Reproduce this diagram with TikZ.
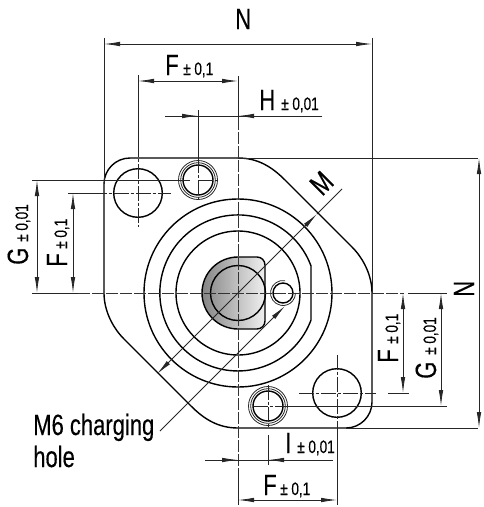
\documentclass[tikz,border=0pt]{standalone}
\usepackage{fontspec}
\setmainfont[FakeStretch=0.75,FakeBold=0.3]{Liberation Sans}
\usetikzlibrary{arrows.meta}

\tikzset{
    outline/.style={line width=1.05pt, black},
    thinline/.style={line width=0.6pt, black!85},
    axisline/.style={line width=0.65pt, black!80, dash pattern=on 9pt off 1.5pt},
    centerline/.style={line width=0.6pt, black!85, dash pattern=on 11pt off 1.5pt on 2.5pt off 1.5pt},
    dimline/.style={thinline, {Latex[length=12pt,width=3.4pt]}-{Latex[length=12pt,width=3.4pt]}},
    tipline/.style={thinline, -{Latex[length=12pt,width=3.4pt]}},
    bigtext/.style={inner sep=0pt, anchor=base west, font=\fontsize{22}{24}\selectfont},
    toltext/.style={inner sep=0pt, anchor=base west, font=\fontsize{13.5}{15}\selectfont},
}

\begin{document}
\begin{tikzpicture}[x=0.75pt, y=-0.75pt]
            \useasboundingbox (0,0) rectangle (483,507);

            % bore
            \draw [outline, left color=black!48, right color=black!6] (238,257) -- (257,257)
                arc[start angle=270, end angle=360, radius=8] -- (265,321)
                arc[start angle=0, end angle=90, radius=8] -- (238,329)
                arc[start angle=90, end angle=270, radius=36] -- cycle;
            \draw [outline] (238,293) circle (27.5);

            % body
            \draw [outline] (238,158) .. controls (258,158) and (272,167) .. (285,180) -- (352,247)
                .. controls (363,258) and (372,275) .. (372,293) -- (372,402)
                arc[start angle=0, end angle=90, radius=26] -- (238,428)
                .. controls (218,428) and (204,419) .. (191,406) -- (124,339)
                .. controls (113,328) and (104,311) .. (104,293) -- (104,184)
                arc[start angle=180, end angle=270, radius=26] -- cycle;
            \draw [outline] (238,293) circle (94);
            \draw [outline] (311,320) arc[start angle=20.3, end angle=339.7, radius=78] -- cycle;
            \draw [outline] (238,293) circle (62);

            % holes
            \draw [outline] (138,193) circle (24.3);
            \draw [outline] (337,393) circle (24.3);
            \draw [thinline] (198,180) circle (19.5) (198,180) circle (17.3);
            \draw [outline] (198,180) circle (15);
            \draw [thinline] (268,406) circle (19.5) (268,406) circle (17.3);
            \draw [outline] (268,406) circle (15);
            \draw [outline] (283,293) circle (10);
            \draw [thinline] (283,293) ++(-80:12.5) arc[start angle=-80, end angle=-360, radius=12.5];

            % axes
            \draw [axisline] (238,118) -- (238,505);
            \draw [axisline] (78,293) -- (404,293);
            \draw [centerline] (138,120) -- (138,227);
            \draw [centerline] (337,355) -- (337,436);
            \draw [centerline] (92,193) -- (171,193);
            \draw [centerline] (299,393) -- (376,393);
            \draw [centerline] (198,158) -- (198,200);
            \draw [centerline] (268,385) -- (268,428);
            \draw [centerline] (198,180) -- (219,180);
            \draw [centerline] (253,406) -- (290,406);

            % extension lines
            \draw [thinline] (104,38) -- (104,184);
            \draw [thinline] (372,38) -- (372,293);
            \draw [thinline] (238,158) -- (478,158);
            \draw [thinline] (346,428) -- (478,428);
            \draw [thinline] (238,76) -- (238,118);
            \draw [thinline] (138,75) -- (138,152);
            \draw [thinline] (198,110) -- (198,158);
            \draw [thinline] (32,180) -- (190,180);
            \draw [thinline] (68,193) -- (92,193);
            \draw [thinline] (32,293) -- (78,293);
            \draw [thinline] (408,293) -- (447,293);
            \draw [thinline] (388,393) -- (409,393);
            \draw [thinline] (290,406) -- (447,406);
            \draw [thinline] (268,435) -- (268,465);
            \draw [thinline] (337,436) -- (337,505);
            \draw [thinline] (238,470) -- (238,505);

            % dimensions
            \draw [dimline] (104,44) -- (372,44);
            \draw [dimline] (138,81) -- (238,81);
            \draw [thinline] (165,116) -- (322,116);
            \draw [tipline] (165,116) -- (198,116);
            \draw [tipline] (322,116) -- (238,116);
            \draw [dimline] (37,180) -- (37,293);
            \draw [dimline] (73,193) -- (73,293);
            \draw [dimline] (403,293) -- (403,393);
            \draw [dimline] (441,293) -- (441,406);
            \draw [dimline] (479,158) -- (479,428);
            \draw [thinline] (205,460) -- (333,460);
            \draw [tipline] (205,460) -- (238,460);
            \draw [tipline] (333,460) -- (268,460);
            \draw [dimline] (238,500) -- (337,500);
            \draw [dimline] (157,374) -- (317,214);
            \draw [thinline] (317,214) -- (342,189);
            \draw [tipline] (160,431) -- (285,306);

            % labels
            \node [bigtext] (n_top) at (235,29) {N};
            \node [bigtext] (f_top) at (165,75) {F};
            \node [toltext] (f_top_tol) at (183,75) {± 0,1};
            \node [bigtext] (h_top) at (259,110) {H};
            \node [toltext] (h_top_tol) at (281,110) {± 0,01};
            \node [bigtext, rotate=90] (g_left) at (28,265) {G};
            \node [toltext, rotate=90] (g_left_tol) at (28,242) {± 0,01};
            \node [bigtext, rotate=90] (f_left) at (67,267) {F};
            \node [toltext, rotate=90] (f_left_tol) at (67,249) {± 0,1};
            \node [bigtext, rotate=90] (f_right) at (398,363) {F};
            \node [toltext, rotate=90] (f_right_tol) at (398,344) {± 0,1};
            \node [bigtext, rotate=90] (g_right) at (436,379) {G};
            \node [toltext, rotate=90] (g_right_tol) at (436,355) {± 0,01};
            \node [bigtext, rotate=90] (n_right) at (474,297) {N};
            \node [bigtext, rotate=45] (m_diam) at (322,197) {M};
            \node [bigtext] (i_bot) at (285,453) {I};
            \node [toltext] (i_bot_tol) at (297,453) {± 0,01};
            \node [bigtext] (f_bot) at (263,495) {F};
            \node [toltext] (f_bot_tol) at (280,495) {± 0,1};
            \node [bigtext] (m6_a) at (33,435) {M6 charging};
            \node [bigtext] (m6_b) at (33,467) {hole};
        \end{tikzpicture}
\end{document}
